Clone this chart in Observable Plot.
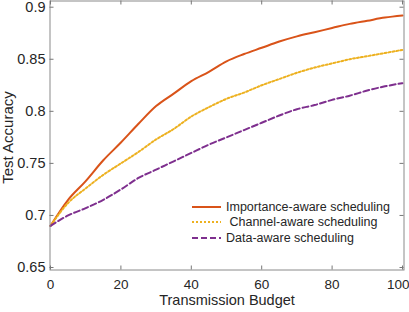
<!DOCTYPE html>
<html><head><meta charset="utf-8">
<script src="https://cdn.jsdelivr.net/npm/d3@7"></script>
<script src="https://cdn.jsdelivr.net/npm/@observablehq/plot@0.6"></script>
<style>
body{margin:0;background:#fff;}
#chart{position:relative;width:409px;height:312px;font-family:"Liberation Sans",Arial,Helvetica,sans-serif;}
#legend{position:absolute;left:190px;top:199px;font-size:12.5px;color:#262626;font-family:"Liberation Sans",Arial,sans-serif;}
.item{display:flex;align-items:center;height:15.5px;white-space:pre;}
.item svg{margin-right:4px;}
</style></head><body><div id="chart"></div>
<script>
const budget     = [0, 5, 10, 15, 20, 25, 30, 35, 40, 45, 50, 55, 60, 65, 70, 75, 80, 85, 90, 95, 100];
const importance = [0.690, 0.715, 0.733, 0.753, 0.770, 0.788, 0.805, 0.817, 0.829, 0.838, 0.848, 0.855, 0.861, 0.867, 0.872, 0.876, 0.880, 0.884, 0.887, 0.890, 0.892];
const channel    = [0.690, 0.712, 0.726, 0.739, 0.750, 0.761, 0.773, 0.783, 0.795, 0.804, 0.812, 0.818, 0.825, 0.831, 0.837, 0.842, 0.846, 0.850, 0.853, 0.856, 0.859];
const dataAware  = [0.690, 0.700, 0.707, 0.715, 0.725, 0.736, 0.744, 0.752, 0.760, 0.768, 0.775, 0.782, 0.789, 0.796, 0.802, 0.806, 0.811, 0.815, 0.820, 0.824, 0.827];
const seriesNames = ["Importance-aware scheduling", " Channel-aware scheduling", "Data-aware scheduling"];
const seriesValues = [importance, channel, dataAware];
const xTicks = [0, 20, 40, 60, 80, 100];
const yTicks = [0.65, 0.7, 0.75, 0.8, 0.85, 0.9];
const xTitle = "Transmission Budget";
const yTitle = "Test Accuracy";

const colors = ["#D95319", "#EDB120", "#7E2F8E"];
const dashes = [null, "2,2", "6,3"];
const axisGray = "#8a8a8a";
const textColor = "#262626";

const W = 409, H = 312;
const mL = 49.5, mR = 5.5, mT = 0.5, mB = 42.5;
const frameW = W - mL - mR, frameH = H - mT - mB;
const tickLen = 4;

const lineMarks = seriesValues.map((vals, k) =>
  Plot.line(budget.map((b, i) => ({b, v: vals[i]})), {
    x: "b", y: "v", stroke: colors[k], strokeWidth: 2,
    strokeDasharray: dashes[k] || undefined, curve: "monotone-x"
  })
);

const plot = Plot.plot({
  width: W, height: H,
  marginLeft: mL, marginRight: mR, marginTop: mT, marginBottom: mB,
  style: {fontFamily: '"Liberation Sans", Arial, sans-serif', color: textColor, background: "white"},
  x: {domain: [0, 100], range: [50, 402]},
  y: {domain: [0.65, 0.9], range: [267, 6.7]},
  marks: [
    ...lineMarks,
    Plot.frame({stroke: axisGray}),
    // inward ticks on all four sides
    Plot.ruleX(xTicks, {x: d => d, stroke: "#777", insetTop: frameH - tickLen}),
    Plot.ruleX(xTicks, {x: d => d, stroke: "#777", insetBottom: frameH - tickLen}),
    Plot.ruleY(yTicks, {y: d => d, stroke: "#777", insetRight: frameW - tickLen}),
    Plot.ruleY(yTicks, {y: d => d, stroke: "#777", insetLeft: frameW - tickLen}),
    Plot.axisX(xTicks.slice(0, -1), {anchor: "bottom", tickSize: 0, tickPadding: 9.5, fontSize: 13.5, fill: textColor, label: null, tickFormat: d => String(d)}),
    Plot.axisX(xTicks.slice(-1), {anchor: "bottom", tickSize: 0, tickPadding: 9.5, fontSize: 13.5, fill: textColor, label: null, tickFormat: d => String(d), textAnchor: "end", dx: 7}),
    Plot.axisY(yTicks, {anchor: "left", tickSize: 0, tickPadding: 4.5, fontSize: 14.5, fill: textColor, label: null, tickFormat: d => String(d)}),
    Plot.text([xTitle], {frameAnchor: "bottom", text: d => d, dy: 35, lineAnchor: "bottom", textAnchor: "middle", fontSize: 14.5, fill: textColor}),
    Plot.text([yTitle], {frameAnchor: "left", text: d => d, rotate: -90, dx: -48, dy: 2, lineAnchor: "top", textAnchor: "middle", fontSize: 15, fill: textColor})
  ]
});

const chart = document.getElementById("chart");
chart.appendChild(plot);

const legend = document.createElement("div");
legend.id = "legend";
seriesNames.forEach((name, k) => {
  const item = document.createElement("div");
  item.className = "item";
  const ns = "http://www.w3.org/2000/svg";
  const svg = document.createElementNS(ns, "svg");
  svg.setAttribute("width", "32");
  svg.setAttribute("height", "6");
  const ln = document.createElementNS(ns, "line");
  ln.setAttribute("x1", "2"); ln.setAttribute("x2", "31");
  ln.setAttribute("y1", "3"); ln.setAttribute("y2", "3");
  ln.setAttribute("stroke", colors[k]);
  ln.setAttribute("stroke-width", "2");
  if (dashes[k]) ln.setAttribute("stroke-dasharray", dashes[k]);
  svg.appendChild(ln);
  item.appendChild(svg);
  const span = document.createElement("span");
  span.textContent = name;
  item.appendChild(span);
  legend.appendChild(item);
});
chart.appendChild(legend);
</script>
</body></html>
